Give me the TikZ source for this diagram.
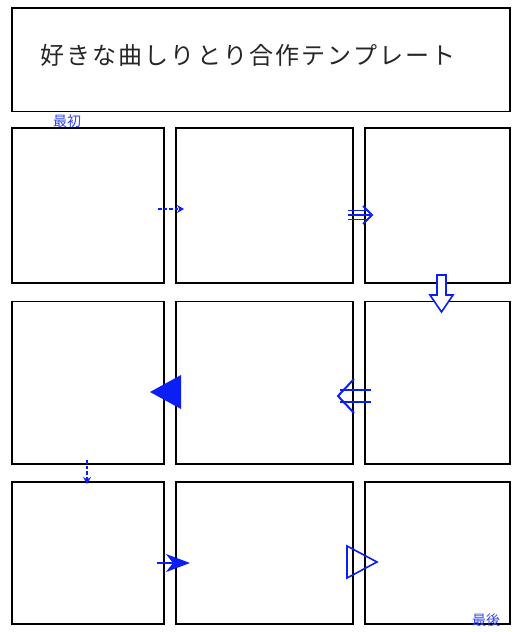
\documentclass[tikz,border=0pt]{standalone}
\usepackage{fontspec}
\newfontfamily\cjk{Noto Sans CJK JP}
\newfontfamily\cjktitle[LetterSpace=9]{Noto Sans CJK JP}
\usetikzlibrary{arrows.meta}
\definecolor{arrowblue}{RGB}{10,30,245}
\definecolor{labelblue}{RGB}{50,70,235}
\begin{document}
\begin{tikzpicture}[x=1pt,y=-1pt,
  panel/.style={draw,line width=1.6pt,inner sep=0pt},
  bluearrow/.style={draw=arrowblue,line width=1.6pt},
  dasharrow/.style={draw=arrowblue,line width=1.8pt,dash pattern=on 3.5pt off 2pt,-{Stealth[length=7pt,width=8pt]}},
  tag/.style={text=labelblue,font=\cjk\fontsize{14}{14}\selectfont,inner sep=0pt}]
\useasboundingbox[fill=white] (0,0) rectangle (522,632);
% title
\node[panel,minimum width=498pt,minimum height=103.5pt] (title) at (261,59.75) {};
\node[anchor=west,inner sep=0pt,text=black!85,font=\cjktitle\fontsize{24}{24}\selectfont] (titletext) at (40,55) {好きな曲しりとり合作テンプレート};
% panels
\node[panel,minimum width=152pt,minimum height=155pt] (p11) at (88,205.5) {};
\node[panel,minimum width=177pt,minimum height=155pt] (p12) at (264.5,205.5) {};
\node[panel,minimum width=145pt,minimum height=155pt] (p13) at (437.5,205.5) {};
\node[panel,minimum width=152pt,minimum height=162.5pt] (p21) at (88,382.75) {};
\node[panel,minimum width=177pt,minimum height=162.5pt] (p22) at (264.5,382.75) {};
\node[panel,minimum width=145pt,minimum height=162.5pt] (p23) at (437.5,382.75) {};
\node[panel,minimum width=152pt,minimum height=142pt] (p31) at (88,553) {};
\node[panel,minimum width=177pt,minimum height=142pt] (p32) at (264.5,553) {};
\node[panel,minimum width=145pt,minimum height=142pt] (p33) at (437.5,553) {};
% labels
\node[tag] (first) at (67,121) {最初};
\node[tag] (last) at (486,620) {最後};
% arrow 1: dashed
\coordinate (a1s) at (158,209);
\coordinate (a1e) at (184,209);
\draw[dasharrow] (a1s) -- (a1e);
% arrow 2: triple line
\draw[bluearrow] (348,210.5) -- (367,210.5) (348,215) -- (370,215) (348,219.5) -- (367,219.5);
\draw[bluearrow,line width=1.8pt,line join=miter] (363,206) -- (372,215) -- (363,224);
% arrow 3: block down
\draw[bluearrow,fill=white,line join=miter] (437,275) -- (446,275) -- (446,295) -- (453,295) -- (441.5,312) -- (430,295) -- (437,295) -- cycle;
% arrow 4: double line left
\draw[arrowblue,line width=2pt] (371,390) -- (340,390) (371,401.5) -- (340,401.5);
\draw[arrowblue,line width=2pt,line join=miter] (354,379) -- (338,396) -- (354,413);
% arrow 5: filled triangle
\fill[arrowblue] (150,392) -- (181,375) -- (181,409) -- cycle;
% arrow 6: dashed down
\coordinate (a6s) at (87,460);
\coordinate (a6e) at (87,484);
\draw[dasharrow] (a6s) -- (a6e);
% arrow 7: stealth
\coordinate (a7s) at (157,563);
\coordinate (a7e) at (190,563);
\draw[arrowblue,line width=1.8pt,-{Stealth[length=24pt,width=18pt,inset=7pt]}] (a7s) -- (a7e);
% arrow 8: open triangle
\draw[bluearrow,line join=miter] (347,546) -- (377,562) -- (347,578) -- cycle;
\end{tikzpicture}
\end{document}
